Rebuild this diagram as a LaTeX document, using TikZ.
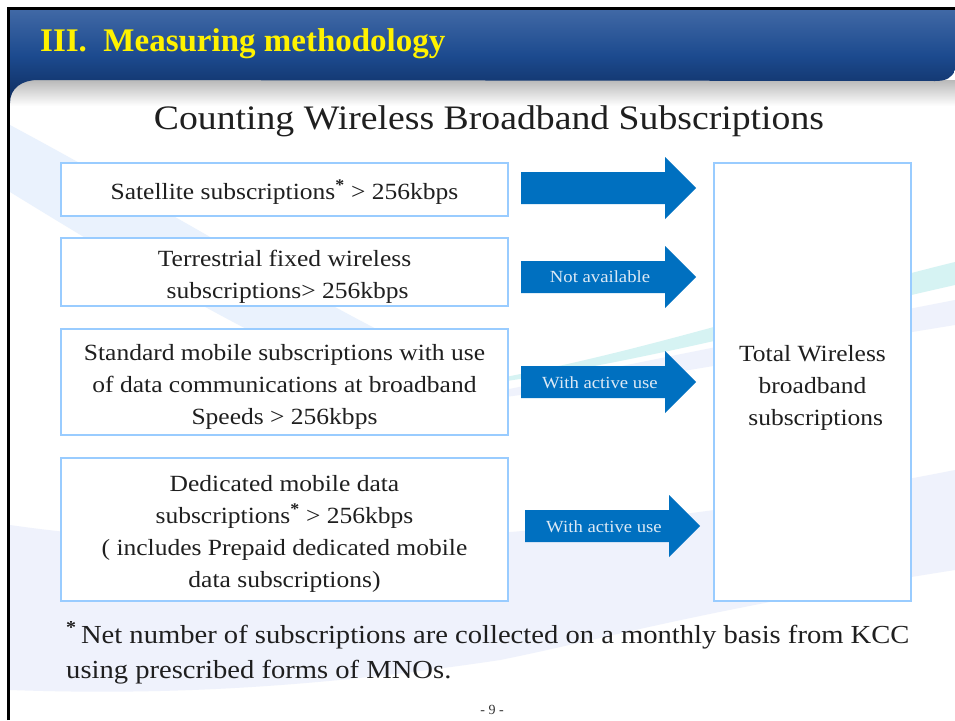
\documentclass[tikz,border=0pt]{standalone}
\usepackage{fontspec}
\setmainfont{Liberation Serif}
\newfontfamily\bt[FakeStretch=1.1]{Liberation Serif}
\usetikzlibrary{calc}
\definecolor{boxblue}{HTML}{99CCFF}
\definecolor{arrowblue}{HTML}{0070C0}
\definecolor{lbltext}{HTML}{DCE9F5}
\definecolor{bandA}{HTML}{EAF2FD}
\definecolor{bandB}{HTML}{EFF2FC}
\definecolor{bandC}{HTML}{D6F3F3}
\definecolor{bantop}{HTML}{4169A6}
\definecolor{banmid}{HTML}{1C4A8E}
\definecolor{banbot}{HTML}{0E2B5C}
\newcommand\blkarrow[3]{%
  \fill[arrowblue] (#1,#3-16) -- (#2-31,#3-16) -- (#2-31,#3-31) -- (#2,#3)
    -- (#2-31,#3+31) -- (#2-31,#3+16) -- (#1,#3+16) -- cycle;}
\tikzset{
  inbox/.style={draw=boxblue, line width=2pt, fill=white, inner sep=0pt},
  boxtext/.style={align=center, inner sep=0pt, text=black!88,
    font=\bt\fontsize{23.2}{32}\selectfont},
  lbl/.style={text=lbltext, inner sep=0pt, font=\bt\fontsize{17}{20}\selectfont},
  fntext/.style={anchor=base west, inner sep=0pt, text=black!88,
    font=\bt\fontsize{26}{35}\selectfont},
}
\begin{document}
\begin{tikzpicture}[x=1pt,y=-1pt]
\useasboundingbox (0,0) rectangle (955,720);
\fill[white] (0,0) rectangle (955,720);
% background swooshes
\fill[bandA] (10,125) .. controls (150,200) and (280,280) .. (390,336)
  -- (260,336) .. controls (170,290) and (80,235) .. (10,192) -- cycle;
\fill[bandB] (10,525) .. controls (250,560) and (600,540) .. (955,470)
  -- (955,570) .. controls (700,610) and (600,640) .. (500,660)
  .. controls (300,690) and (150,695) .. (10,690) -- cycle;
\fill[bandB] (480,395) .. controls (650,360) and (800,330) .. (955,300)
  -- (955,325) .. controls (800,350) and (650,380) .. (480,400) -- cycle;
\fill[bandC] (500,378) .. controls (650,350) and (800,300) .. (955,262)
  -- (955,285) .. controls (800,320) and (650,360) .. (500,382) -- cycle;
% header shadow
\shade[top color=gray!55, bottom color=white] (10,80) rectangle (955,106);
% header banner
\shade[top color=bantop, bottom color=banbot, middle color=banmid]
  (10,9) -- (955,9) -- (955,70) .. controls (952,78) and (946,81) .. (935,81)
  -- (38,80) .. controls (22,80) and (10,88) .. (10,103) -- cycle;
% frame
\draw[black, line width=2.6pt] (8.3,720) -- (8.3,8.3) -- (955,8.3);
% header text
\node[anchor=base west, text=yellow, inner sep=0pt,
  font=\bfseries\fontsize{33}{40}\selectfont] (hdr) at (40,51) {III.\ \ Measuring methodology};
\node[anchor=base, inner sep=0pt, text=black!88,
  font=\bt\fontsize{34.3}{40}\selectfont] (ttl) at (489,129) {Counting Wireless Broadband Subscriptions};
% boxes
\node[inbox, minimum width=447pt, minimum height=53pt] (b1) at (284.5,189.5) {};
\node[inbox, minimum width=447pt, minimum height=68pt] (b2) at (284.5,272) {};
\node[inbox, minimum width=447pt, minimum height=106pt] (b3) at (284.5,382) {};
\node[inbox, minimum width=447pt, minimum height=143pt] (b4) at (284.5,529.5) {};
\node[inbox, minimum width=197pt, minimum height=438pt] (tot) at (812.5,382) {};
\node[boxtext] (t1) at ($(b1.center)+(0,3)$)
  {Satellite subscriptions\textsuperscript{\bfseries *} > 256kbps};
\node[boxtext] (t2) at ($(b2.center)+(0,5)$)
  {Terrestrial fixed wireless\\ \ subscriptions> 256kbps};
\node[boxtext] (t3) at ($(b3.center)+(0,5)$)
  {Standard mobile subscriptions with use\\of data communications at broadband\\Speeds > 256kbps};
\node[boxtext] (t4) at ($(b4.center)+(0,4)$)
  {Dedicated mobile data\\subscriptions\textsuperscript{\bfseries *} > 256kbps\\( includes Prepaid dedicated mobile\\data subscriptions)};
\node[boxtext] (t5) at ($(tot.center)+(0,6)$)
  {Total Wireless\\broadband\\\ subscriptions};
% block arrows
\blkarrow{521}{696}{188}
\blkarrow{521}{696}{277}
\blkarrow{521}{696}{382}
\blkarrow{525}{700}{526}
\node[lbl] (l2) at (600,277) {Not available};
\node[lbl] (l3) at (600,383) {With active use};
\node[lbl] (l4) at (604,527) {With active use};
% footnote
\node[fntext] (fn1) at (66,643)
  {\textsuperscript{\bfseries *}\,Net number of subscriptions are collected on a monthly basis from KCC};
\node[fntext] (fn2) at (66,678) {using prescribed forms of MNOs.};
\node[anchor=base, inner sep=0pt, text=black!80,
  font=\fontsize{14}{16}\selectfont] (pg) at (492,714) {- 9 -};
\end{tikzpicture}
\end{document}
